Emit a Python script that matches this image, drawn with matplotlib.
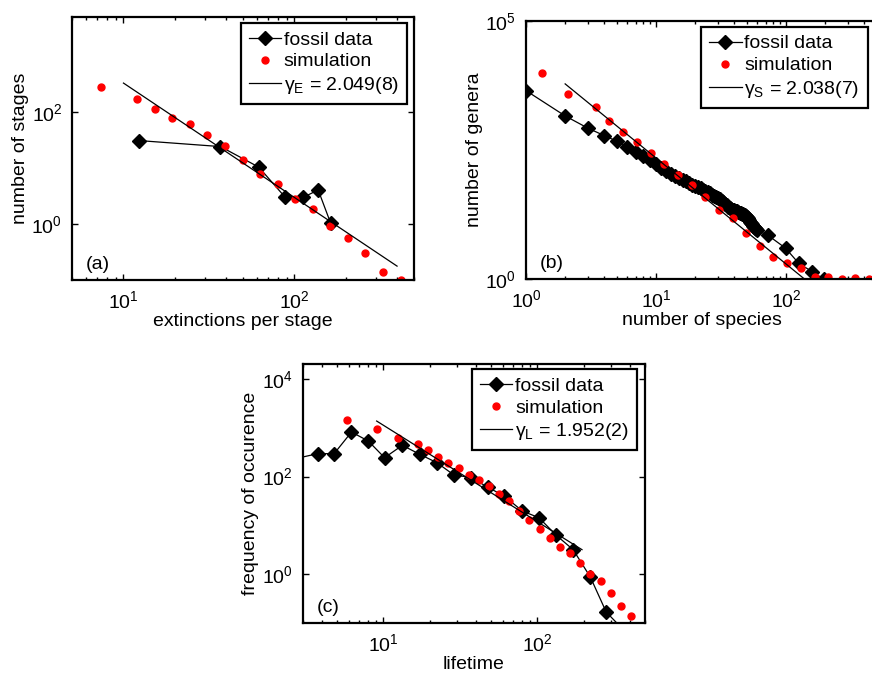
import numpy as np
import matplotlib
matplotlib.use("Agg")
import matplotlib.pyplot as plt
from matplotlib.ticker import FixedLocator, LogLocator, FuncFormatter, NullLocator, NullFormatter

plt.rcParams['font.family'] = ['Liberation Sans', 'DejaVu Sans']
plt.rcParams['mathtext.fontset'] = 'custom'
plt.rcParams['mathtext.rm'] = 'Liberation Sans'
plt.rcParams['font.size'] = 14

# ---------------- panel (a) : extinctions per stage ----------------
a_fossil_x = [12.3, 36.9, 61.8, 88.3, 112.5, 137.6, 162.5]
a_fossil_y = [31, 24.2, 10.4, 3.0, 3.0, 4.06, 1.05]
a_sim_x = [7.4, 12.0, 15.2, 19.3, 24.4, 31.0, 39.3, 49.7, 63.0, 79.8, 100.9,
           127.9, 162.4, 206, 260, 328, 419]
a_sim_y = [280, 171, 113, 80, 61.7, 38.7, 24.9, 14.0, 7.76, 5.14, 2.77,
           1.83, 0.92, 0.56, 0.30, 0.138, 0.102]
a_fit_x = [10, 398]
a_fit_y = [330, 0.177]
a_label = "γ$_\\mathregular{E}$ = 2.049(8)"

# ---------------- panel (b) : species per genus ----------------
b_fossil_x = [1, 2, 3, 4, 5, 6, 7, 8, 9, 10, 11, 12, 13, 14, 15, 16, 17, 18, 19, 20,
              21, 22, 23, 24, 25, 26, 27, 28, 29, 30, 31, 32, 33, 34, 35, 36, 37, 38, 39, 40,
              41, 42, 43, 44, 45, 46, 47, 48, 49, 50, 51, 52, 53, 54, 55, 56, 57, 58, 59, 60,
              72, 99, 125, 159, 196]
b_fossil_y = [4446, 1442, 833, 600, 467, 367, 294, 243, 200, 168, 142, 122, 110, 99, 91, 84, 78, 72, 68, 64,
              60, 57, 54, 51, 48, 46, 43, 41, 39, 37, 35, 33, 31, 29, 27, 25.5, 24, 23, 22, 21.5,
              21, 20.5, 20, 19.5, 19, 18.5, 18, 17.5, 17, 16, 15, 14, 13, 12.2, 11.5, 10.8, 10.2, 9.6, 9.2, 8.8,
              7.2, 4.0, 2.04, 1.4, 1.0]
b_sim_x = [1.32, 2.12, 3.44, 4.37, 5.57, 7.14, 9.1, 11.6, 14.7, 18.8, 23.9, 30.5, 38.9,
           49.2, 63.1, 79.8, 102, 130, 166, 211, 268, 339, 432]
b_sim_y = [9650, 3787, 2122, 1153, 697, 447, 274, 170, 104, 66.7, 38.5, 21.9, 15.1,
           7.76, 4.47, 2.67, 2.1, 1.63, 1.12, 1.09, 1.0, 1.07, 1.0]
b_fit_x = [2.0, 136]
b_fit_y = [6000, 1.05]
b_label = "γ$_\\mathregular{S}$ = 2.038(7)"

# ---------------- panel (c) : lifetimes ----------------
c_fossil_x = [2.5, 3.75, 4.8, 6.22, 8.0, 10.2, 13.3, 17.3, 22.3, 28.6, 37.2, 47.5, 61,
              80, 102.5, 132.8, 170.8, 221, 280, 360]
c_fossil_y = [220, 294, 294, 813, 532, 243, 435, 284, 192, 109, 95, 61, 39.9,
              19.7, 14.4, 6.3, 3.2, 0.88, 0.17, 0.075]
c_sim_x = [5.81, 9.15, 12.4, 16.8, 19.5, 22.6, 26.5, 30.8, 35.9, 41.6, 48.3, 56.6, 65.7,
           76.2, 88.3, 103.5, 120, 140, 164, 190, 221, 259, 300, 348, 404]
c_sim_y = [1410, 923, 613, 470, 343, 255, 189, 149, 109, 83.6, 65.1, 43.3, 31.1,
           19.7, 12.7, 8.6, 5.6, 3.7, 2.73, 1.73, 1.03, 0.73, 0.42, 0.225, 0.14]
c_fit_x = [9.06, 195]
c_fit_y = [1365, 3.2]
c_label = "γ$_\\mathregular{L}$ = 1.952(2)"

W, H = 872, 673
fig = plt.figure(figsize=(W / 100, H / 100), dpi=100)


def ax_from_px(left, right, top, bottom):
    return fig.add_axes([left / W, (H - bottom) / H, (right - left) / W, (bottom - top) / H])


def fmt(v, p):
    e = int(round(np.log10(v)))
    return r'$\mathregular{10^{%d}}$' % e


def panel(ax, fx, fy, sx, sy, lx, ly, label, xlim, ylim, xticks, yticks,
          xlabel, ylabel, tag, leg_anchor):
    ax.set_xscale('log')
    ax.set_yscale('log')
    ax.plot(fx, fy, '-', color='black', lw=0.9, marker='D', ms=7.4,
            mfc='black', mec='black', label='fossil data')
    ax.plot(sx, sy, 'o', color='red', ms=5.0, mec='red', label='simulation')
    ax.plot(lx, ly, '-', color='black', lw=0.9, label=label)
    ax.set_xlim(*xlim)
    ax.set_ylim(*ylim)
    ax.xaxis.set_major_locator(FixedLocator(xticks))
    ax.yaxis.set_major_locator(FixedLocator(yticks))
    ax.xaxis.set_minor_locator(LogLocator(base=10, subs=np.arange(2, 10)))
    ax.yaxis.set_minor_locator(NullLocator())
    ax.xaxis.set_minor_formatter(NullFormatter())
    ax.xaxis.set_major_formatter(FuncFormatter(fmt))
    ax.yaxis.set_major_formatter(FuncFormatter(fmt))
    ax.tick_params(which='both', direction='in', top=True, right=True, width=1.0)
    ax.tick_params(which='major', length=4, pad=7, labelsize=14)
    ax.tick_params(which='minor', length=2)
    for s in ax.spines.values():
        s.set_linewidth(1.6)
    ax.set_xlabel(xlabel, labelpad=1)
    ax.set_ylabel(ylabel, labelpad=2)
    ax.text(0.04, 0.06, tag, transform=ax.transAxes, ha='left', va='center')
    leg = ax.legend(loc='upper right', bbox_to_anchor=leg_anchor, borderaxespad=0,
                    fancybox=False, framealpha=1, edgecolor='black',
                    handlelength=1.65, handletextpad=0.15, borderpad=0.42,
                    labelspacing=0.22, numpoints=1)
    leg.get_frame().set_linewidth(1.6)


axa = ax_from_px(72, 414, 17, 280)
panel(axa, a_fossil_x, a_fossil_y, a_sim_x, a_sim_y, a_fit_x, a_fit_y, a_label,
      (5, 500), (0.1, 5000), [10, 100], [1, 100],
      'extinctions per stage', 'number of stages', '(a)', (0.980, 0.978))

axb = ax_from_px(526, 877, 20.7, 279.3)
panel(axb, b_fossil_x, b_fossil_y, b_sim_x, b_sim_y, b_fit_x, b_fit_y, b_label,
      (1, 500), (1, 1e5), [1, 10, 100], [1, 1e5],
      'number of species', 'number of genera', '(b)', (0.974, 0.977))

axc = ax_from_px(302.7, 645, 364, 623.3)
panel(axc, c_fossil_x, c_fossil_y, c_sim_x, c_sim_y, c_fit_x, c_fit_y, c_label,
      (3, 500), (0.1, 2e4), [10, 100], [1, 100, 1e4],
      'lifetime', 'frequency of occurence', '(c)', (0.9775, 0.9796))

fig.savefig('out.png', dpi=100)
